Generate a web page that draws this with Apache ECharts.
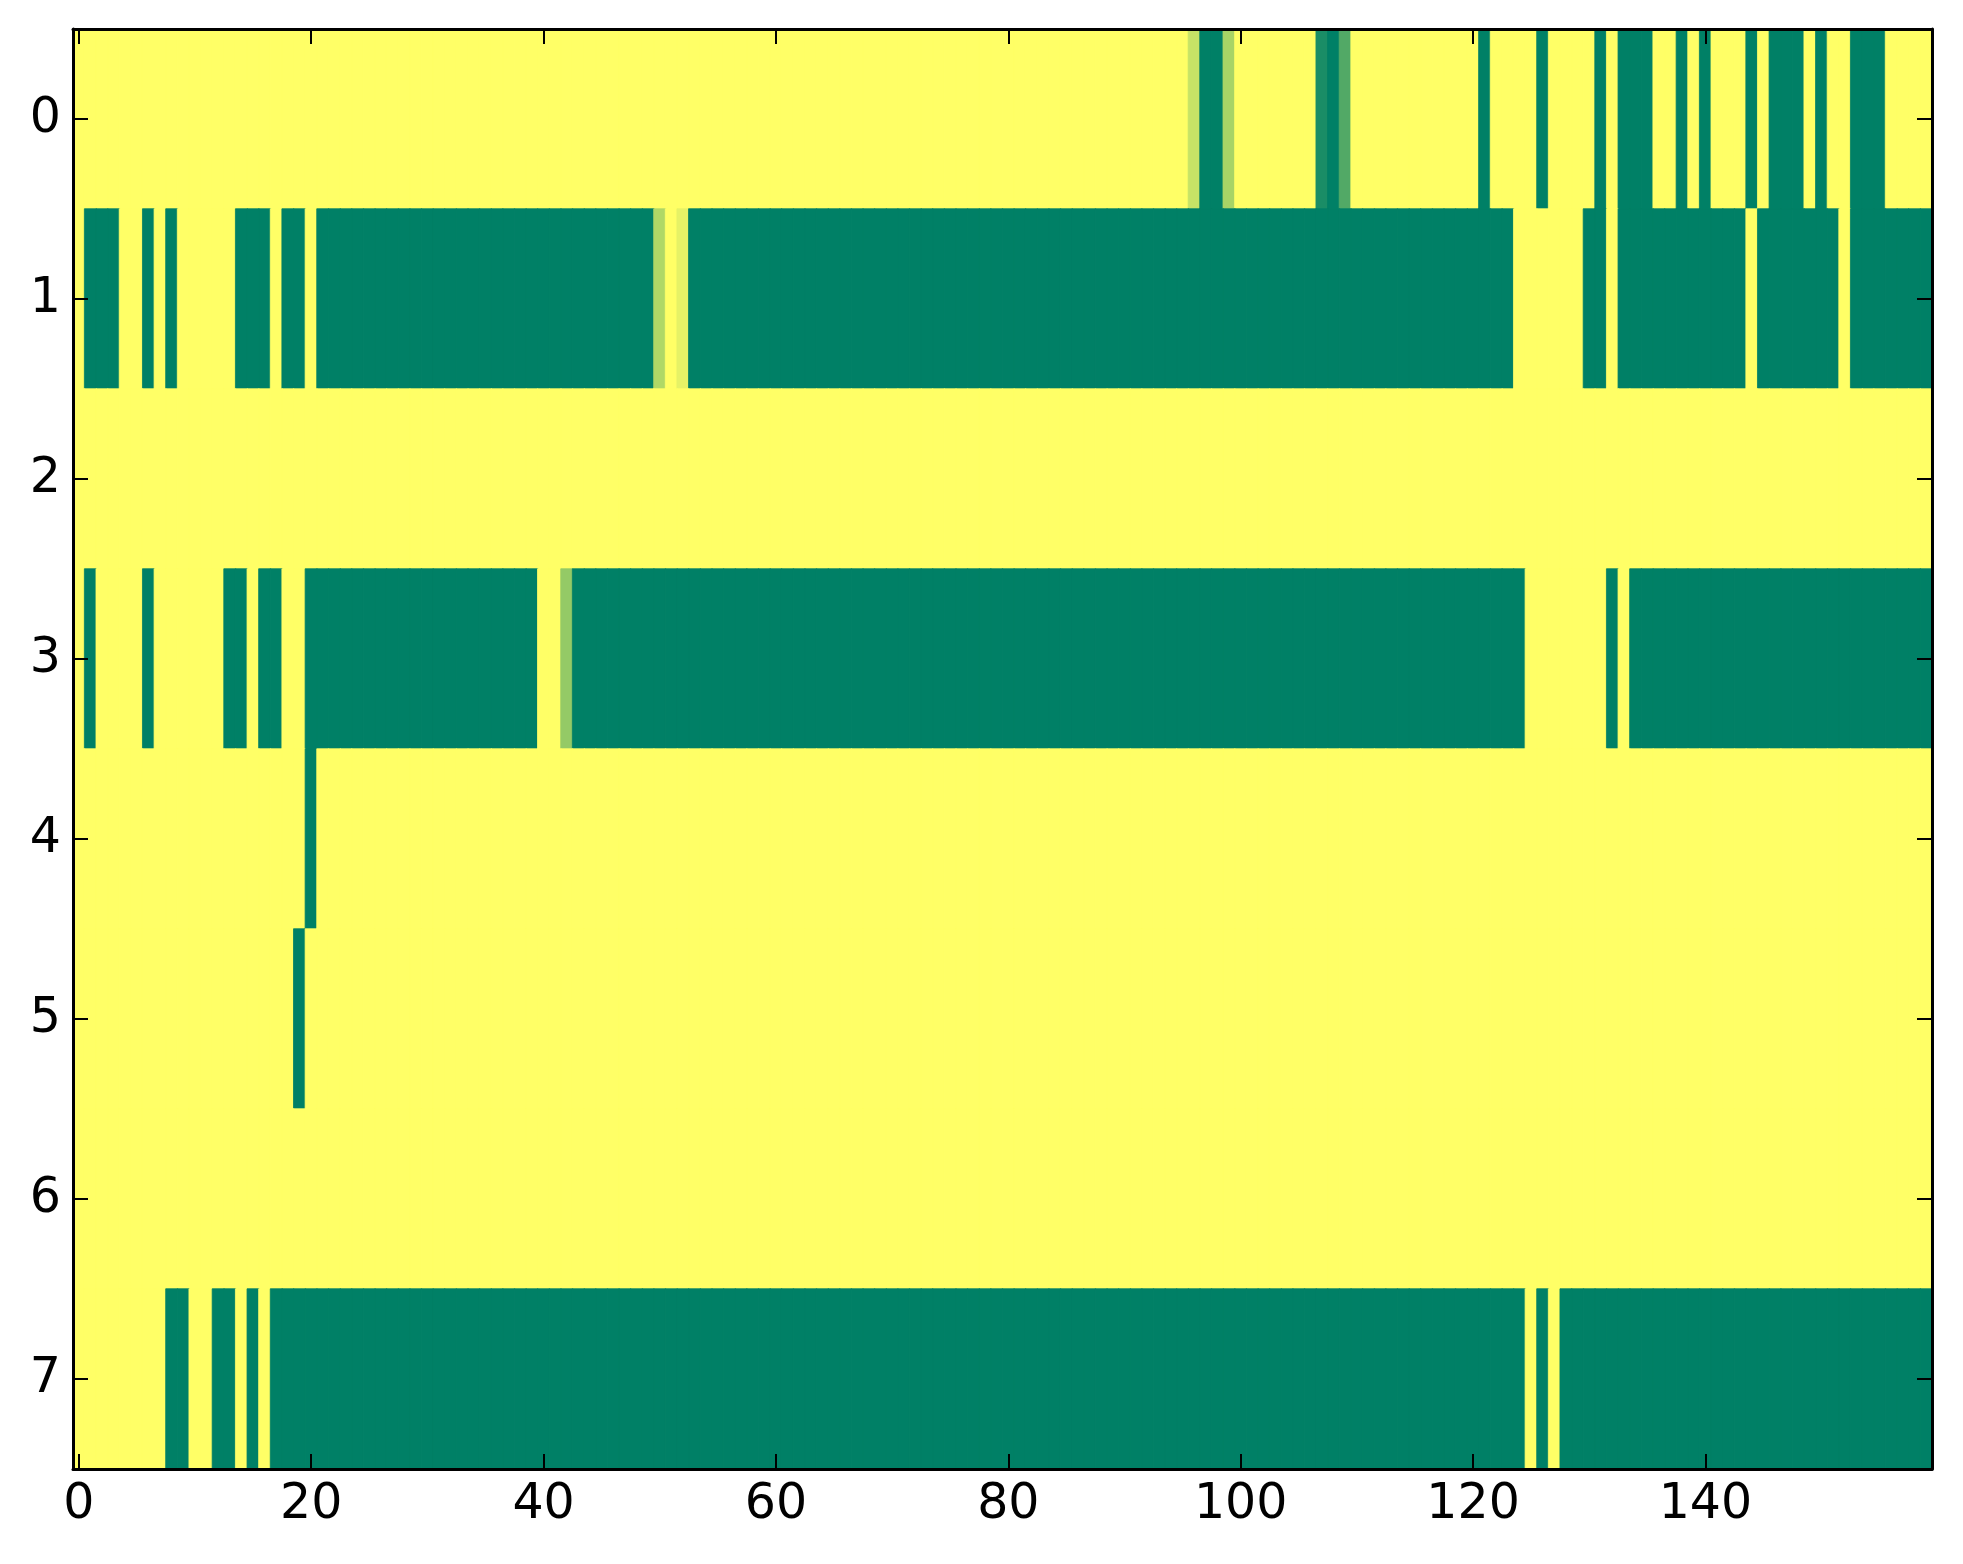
<!DOCTYPE html>
<html>
<head>
<meta charset="utf-8">
<script src="https://cdn.jsdelivr.net/npm/echarts@6/dist/echarts.min.js"></script>
<style>
  html, body { margin: 0; padding: 0; background: #ffffff; }
  #chart { width: 1963px; height: 1564px; }
</style>
</head>
<body>
<div id="chart"></div>
<script>
// Row labels (top to bottom) and column count
var rowLabels = ['0', '1', '2', '3', '4', '5', '6', '7'];
var colLabels = [];
for (var c = 0; c < 160; c++) colLabels.push(String(c));
var xTickStep = 20;
var colorStops = ['#008066', '#ffff66'];

// Cell values per row (0 = green, 1 = yellow, summer colormap), 160 columns each
var row0 = [
  1,1,1,1,1,1,1,1,1,1,1,1,1,1,1,1,1,1,1,1,
  1,1,1,1,1,1,1,1,1,1,1,1,1,1,1,1,1,1,1,1,
  1,1,1,1,1,1,1,1,1,1,1,1,1,1,1,1,1,1,1,1,
  1,1,1,1,1,1,1,1,1,1,1,1,1,1,1,1,1,1,1,1,
  1,1,1,1,1,1,1,1,1,1,1,1,1,1,1,1,0.78,0,0,0.66,
  1,1,1,1,1,1,1,0.1,0,0.32,1,1,1,1,1,1,1,1,1,1,
  1,0,1,1,1,1,0,1,1,1,1,0,1,0,0,0,1,1,0,1,
  0,1,1,1,0,1,0,0,0,1,0,1,1,0,0,0,1,1,1,1
];
var row1 = [
  1,0,0,0,1,1,0,1,0,1,1,1,1,1,0,0,0,1,0,0,
  1,0,0,0,0,0,0,0,0,0,0,0,0,0,0,0,0,0,0,0,
  0,0,0,0,0,0,0,0,0,0,0.69,1,0.9,0,0,0,0,0,0,0,
  0,0,0,0,0,0,0,0,0,0,0,0,0,0,0,0,0,0,0,0,
  0,0,0,0,0,0,0,0,0,0,0,0,0,0,0,0,0,0,0,0,
  0,0,0,0,0,0,0,0,0,0,0,0,0,0,0,0,0,0,0,0,
  0,0,0,0,1,1,1,1,1,1,0,0,1,0,0,0,0,0,0,0,
  0,0,0,0,1,0,0,0,0,0,0,0,1,0,0,0,0,0,0,0
];
var row2 = [
  1,1,1,1,1,1,1,1,1,1,1,1,1,1,1,1,1,1,1,1,
  1,1,1,1,1,1,1,1,1,1,1,1,1,1,1,1,1,1,1,1,
  1,1,1,1,1,1,1,1,1,1,1,1,1,1,1,1,1,1,1,1,
  1,1,1,1,1,1,1,1,1,1,1,1,1,1,1,1,1,1,1,1,
  1,1,1,1,1,1,1,1,1,1,1,1,1,1,1,1,1,1,1,1,
  1,1,1,1,1,1,1,1,1,1,1,1,1,1,1,1,1,1,1,1,
  1,1,1,1,1,1,1,1,1,1,1,1,1,1,1,1,1,1,1,1,
  1,1,1,1,1,1,1,1,1,1,1,1,1,1,1,1,1,1,1,1
];
var row3 = [
  1,0,1,1,1,1,0,1,1,1,1,1,1,0,0,1,0,0,1,1,
  0,0,0,0,0,0,0,0,0,0,0,0,0,0,0,0,0,0,0,0,
  1,1,0.58,0,0,0,0,0,0,0,0,0,0,0,0,0,0,0,0,0,
  0,0,0,0,0,0,0,0,0,0,0,0,0,0,0,0,0,0,0,0,
  0,0,0,0,0,0,0,0,0,0,0,0,0,0,0,0,0,0,0,0,
  0,0,0,0,0,0,0,0,0,0,0,0,0,0,0,0,0,0,0,0,
  0,0,0,0,0,1,1,1,1,1,1,1,0,1,0,0,0,0,0,0,
  0,0,0,0,0,0,0,0,0,0,0,0,0,0,0,0,0,0,0,0
];
var row4 = [
  1,1,1,1,1,1,1,1,1,1,1,1,1,1,1,1,1,1,1,1,
  0,1,1,1,1,1,1,1,1,1,1,1,1,1,1,1,1,1,1,1,
  1,1,1,1,1,1,1,1,1,1,1,1,1,1,1,1,1,1,1,1,
  1,1,1,1,1,1,1,1,1,1,1,1,1,1,1,1,1,1,1,1,
  1,1,1,1,1,1,1,1,1,1,1,1,1,1,1,1,1,1,1,1,
  1,1,1,1,1,1,1,1,1,1,1,1,1,1,1,1,1,1,1,1,
  1,1,1,1,1,1,1,1,1,1,1,1,1,1,1,1,1,1,1,1,
  1,1,1,1,1,1,1,1,1,1,1,1,1,1,1,1,1,1,1,1
];
var row5 = [
  1,1,1,1,1,1,1,1,1,1,1,1,1,1,1,1,1,1,1,0,
  1,1,1,1,1,1,1,1,1,1,1,1,1,1,1,1,1,1,1,1,
  1,1,1,1,1,1,1,1,1,1,1,1,1,1,1,1,1,1,1,1,
  1,1,1,1,1,1,1,1,1,1,1,1,1,1,1,1,1,1,1,1,
  1,1,1,1,1,1,1,1,1,1,1,1,1,1,1,1,1,1,1,1,
  1,1,1,1,1,1,1,1,1,1,1,1,1,1,1,1,1,1,1,1,
  1,1,1,1,1,1,1,1,1,1,1,1,1,1,1,1,1,1,1,1,
  1,1,1,1,1,1,1,1,1,1,1,1,1,1,1,1,1,1,1,1
];
var row6 = [
  1,1,1,1,1,1,1,1,1,1,1,1,1,1,1,1,1,1,1,1,
  1,1,1,1,1,1,1,1,1,1,1,1,1,1,1,1,1,1,1,1,
  1,1,1,1,1,1,1,1,1,1,1,1,1,1,1,1,1,1,1,1,
  1,1,1,1,1,1,1,1,1,1,1,1,1,1,1,1,1,1,1,1,
  1,1,1,1,1,1,1,1,1,1,1,1,1,1,1,1,1,1,1,1,
  1,1,1,1,1,1,1,1,1,1,1,1,1,1,1,1,1,1,1,1,
  1,1,1,1,1,1,1,1,1,1,1,1,1,1,1,1,1,1,1,1,
  1,1,1,1,1,1,1,1,1,1,1,1,1,1,1,1,1,1,1,1
];
var row7 = [
  1,1,1,1,1,1,1,1,0,0,1,1,0,0,1,0,1,0,0,0,
  0,0,0,0,0,0,0,0,0,0,0,0,0,0,0,0,0,0,0,0,
  0,0,0,0,0,0,0,0,0,0,0,0,0,0,0,0,0,0,0,0,
  0,0,0,0,0,0,0,0,0,0,0,0,0,0,0,0,0,0,0,0,
  0,0,0,0,0,0,0,0,0,0,0,0,0,0,0,0,0,0,0,0,
  0,0,0,0,0,0,0,0,0,0,0,0,0,0,0,0,0,0,0,0,
  0,0,0,0,0,1,0,1,0,0,0,0,0,0,0,0,0,0,0,0,
  0,0,0,0,0,0,0,0,0,0,0,0,0,0,0,0,0,0,0,0
];
var rows = [row0, row1, row2, row3, row4, row5, row6, row7];

// Build heatmap items; a thin border in the cell's own colour hides anti-aliasing seams
var cells = [];
for (var r = 0; r < rows.length; r++) {
  for (var k = 0; k < rows[r].length; k++) {
    var v = rows[r][k];
    cells.push({
      value: [k, r, v],
      itemStyle: { borderColor: echarts.color.lerp(v, colorStops), borderWidth: 0.8 }
    });
  }
}

var FONT = 'DejaVu Sans';
var tickEvery = function (idx) { return idx % xTickStep === 0; };
var axisLineStyle = { show: true, lineStyle: { color: '#000', width: 3 } };
var tickStyle = { lineStyle: { color: '#000', width: 2 } };

var chart = echarts.init(document.getElementById('chart'), null, { renderer: 'canvas' });
chart.setOption({
  backgroundColor: '#ffffff',
  animation: false,
  grid: { left: 73, top: 29, width: 1859, height: 1440, containLabel: false },
  xAxis: [
    {
      type: 'category', data: colLabels, position: 'bottom', z: 10,
      axisLine: axisLineStyle,
      axisTick: Object.assign({ show: true, inside: true, length: 15, alignWithLabel: true, interval: tickEvery }, tickStyle),
      axisLabel: { show: true, interval: tickEvery, color: '#000', fontFamily: FONT, fontSize: 49, margin: 12 },
      splitLine: { show: false }, splitArea: { show: false }
    },
    {
      type: 'category', data: colLabels, position: 'top', z: 10,
      axisLine: axisLineStyle,
      axisTick: Object.assign({ show: true, inside: true, length: 15, alignWithLabel: true, interval: tickEvery }, tickStyle),
      axisLabel: { show: false },
      splitLine: { show: false }, splitArea: { show: false }
    }
  ],
  yAxis: [
    {
      type: 'category', data: rowLabels, inverse: true, position: 'left', z: 10,
      axisLine: axisLineStyle,
      axisTick: Object.assign({ show: true, inside: true, length: 15, alignWithLabel: true, interval: 0 }, tickStyle),
      axisLabel: { show: true, interval: 0, color: '#000', fontFamily: FONT, fontSize: 49, margin: 12 },
      splitLine: { show: false }, splitArea: { show: false }
    },
    {
      type: 'category', data: rowLabels, inverse: true, position: 'right', z: 10,
      axisLine: axisLineStyle,
      axisTick: Object.assign({ show: true, inside: true, length: 15, alignWithLabel: true, interval: 0 }, tickStyle),
      axisLabel: { show: false },
      splitLine: { show: false }, splitArea: { show: false }
    }
  ],
  visualMap: {
    show: false, type: 'continuous', min: 0, max: 1, dimension: 2,
    inRange: { color: colorStops }
  },
  series: [{
    type: 'heatmap',
    xAxisIndex: 0, yAxisIndex: 0,
    data: cells,
    emphasis: { disabled: true },
    z: 1
  }]
});
</script>
</body>
</html>
